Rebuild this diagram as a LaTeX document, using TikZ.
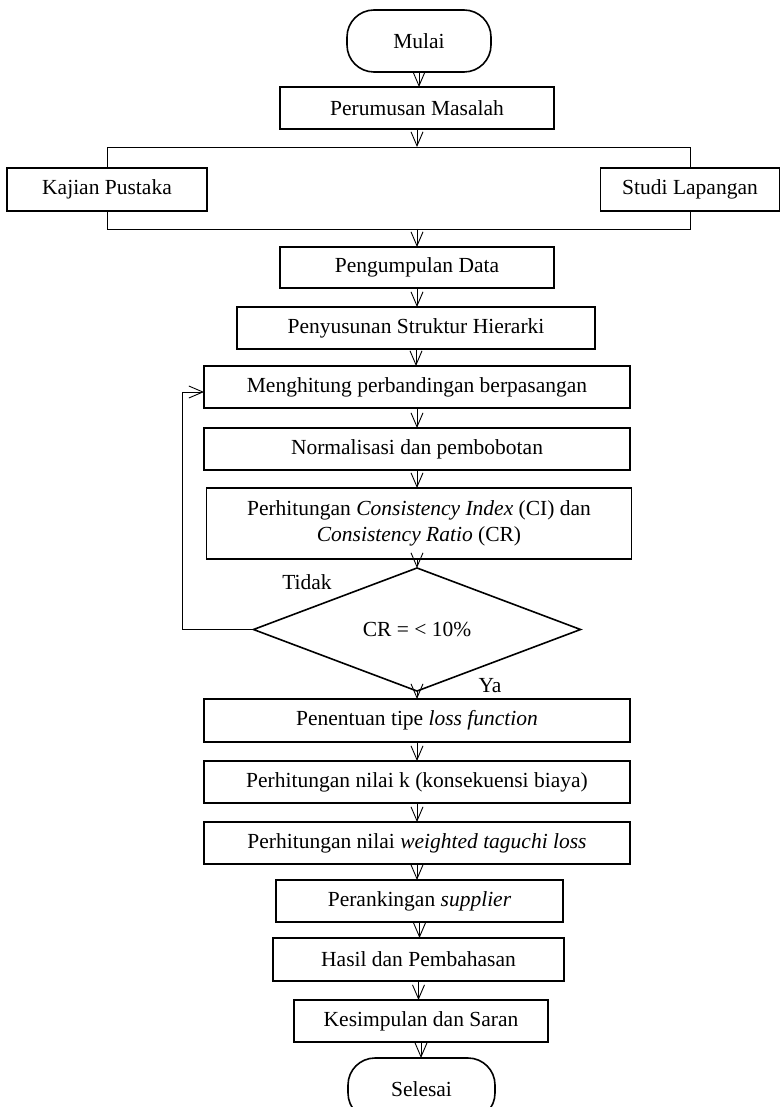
\documentclass[tikz,border=0pt]{standalone}
\usepackage{fontspec}
\setmainfont{Liberation Serif}
\usetikzlibrary{arrows.meta,shapes.geometric}
\begin{document}
\begin{tikzpicture}[x=1pt,y=-1pt,
  font=\fontsize{21.5}{26}\selectfont,
  box/.style={draw, line width=1.6pt, inner sep=0pt, outer sep=0pt, align=center},
  term/.style={box, rounded corners=27pt},
  dec/.style={draw, shape=diamond, line width=1.6pt, inner sep=0pt, outer sep=0pt},
  conn/.style={line width=0.9pt},
  arr/.style={conn, -{Straight Barb[length=14pt,width=12pt,line width=0.9pt]}},
  lbl/.style={inner sep=0pt}]
\clip (0,0) rectangle (781,1107);
\useasboundingbox (0,0) rectangle (781,1107);

\node[term, minimum width=144pt, minimum height=62pt] (mulai) at (419,41) {Mulai};
\node[box, minimum width=274pt, minimum height=42pt] (rumus) at (417,108) {Perumusan Masalah};
\node[box, minimum width=200pt, minimum height=43pt] (kajian) at (107,189.5) {Kajian Pustaka};
\node[box, minimum width=179pt, minimum height=43pt] (studi) at (690,189.5) {Studi Lapangan};
\node[box, minimum width=274pt, minimum height=41pt] (kumpul) at (417,267.5) {Pengumpulan Data};
\node[box, minimum width=358pt, minimum height=42pt] (susun) at (416,328) {Penyusunan Struktur Hierarki};
\node[box, minimum width=426pt, minimum height=42pt] (hitung) at (417,387) {Menghitung perbandingan berpasangan};
\node[box, minimum width=426pt, minimum height=42pt] (norm) at (417,449) {Normalisasi dan pembobotan};
\node[box, minimum width=425pt, minimum height=71pt] (ci) at (419,523.5) {Perhitungan \textit{Consistency Index} (CI) dan\\\textit{Consistency Ratio} (CR)};
\node[dec, minimum width=327pt, minimum height=107pt] (cr) at (417,629.5) {CR = < 10\%};
\node[box, minimum width=426pt, minimum height=43pt] (tipe) at (417,720.5) {Penentuan tipe \textit{loss function}};
\node[box, minimum width=426pt, minimum height=42pt] (nilk) at (417,782) {Perhitungan nilai k (konsekuensi biaya)};
\node[box, minimum width=426pt, minimum height=42pt] (wtl) at (417,843) {Perhitungan nilai \textit{weighted taguchi loss}};
\node[box, minimum width=287pt, minimum height=42pt] (rank) at (419.5,901) {Perankingan \textit{supplier}};
\node[box, minimum width=291pt, minimum height=43pt] (hasil) at (418.5,959.5) {Hasil dan Pembahasan};
\node[box, minimum width=254pt, minimum height=42pt] (simpul) at (421,1021) {Kesimpulan dan Saran};
\node[term, minimum width=147pt, minimum height=62pt] (selesai) at (421.5,1089) {Selesai};

\node[lbl] (tidak) at (307,582) {Tidak};
\node[lbl] (ya) at (490,686) {Ya};

\coordinate (split) at (417,147);
\coordinate (merge) at (417,229);

\draw[arr] (mulai.south) -- (mulai.south |- rumus.north);
\draw[arr] (rumus.south) -- (split);
\draw[conn] (kajian.north) -- (kajian.north |- split) -- (studi.north |- split) -- (studi.north);
\draw[conn] (kajian.south) -- (kajian.south |- merge) -- (studi.south |- merge) -- (studi.south);
\draw[arr] (merge) -- (kumpul.north);
\draw[arr] (kumpul.south) -- (kumpul.south |- susun.north);
\draw[arr] (susun.south) -- (susun.south |- hitung.north);
\draw[arr] (hitung.south) -- (hitung.south |- norm.north);
\draw[arr] (norm.south) -- (norm.south |- ci.north);
\draw[arr] (ci.south -| cr.north) -- (cr.north);
\draw[arr] (cr.west) -- ++(-71,0) |- ([yshift=-5pt]hitung.west);
\draw[arr] (cr.south) -- (cr.south |- tipe.north);
\draw[arr] (tipe.south) -- (tipe.south |- nilk.north);
\draw[arr] (nilk.south) -- (nilk.south |- wtl.north);
\draw[arr] (wtl.south) -- (wtl.south |- rank.north);
\draw[arr] (rank.south) -- (rank.south |- hasil.north);
\draw[arr] (hasil.south) -- (hasil.south |- simpul.north);
\draw[arr] (simpul.south) -- (simpul.south |- selesai.north);
\end{tikzpicture}
\end{document}
